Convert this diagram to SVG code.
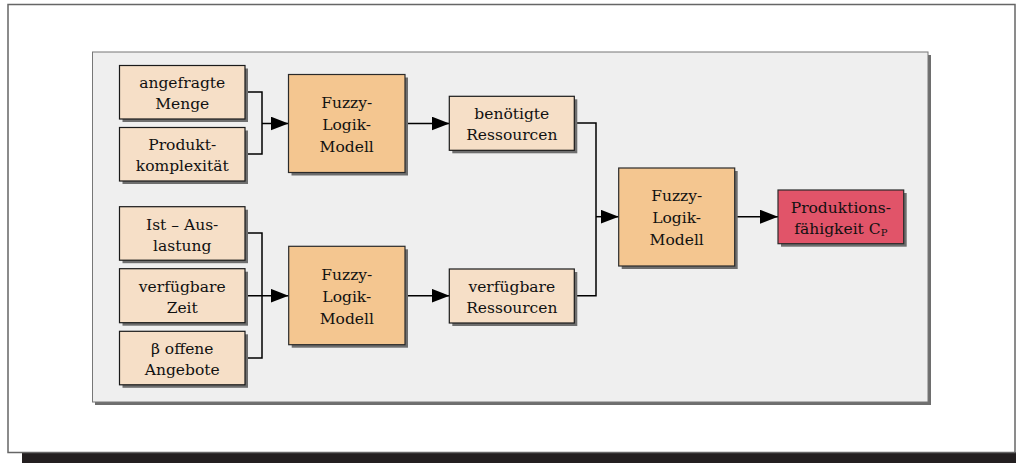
<svg xmlns="http://www.w3.org/2000/svg" width="1016" height="463" viewBox="0 0 1016 463">
  <defs>
    <marker id="arrow" markerUnits="userSpaceOnUse" markerWidth="18" markerHeight="14" refX="18" refY="7" orient="auto">
      <path d="M0,0 L18,7 L0,14 Z" fill="#000"/>
    </marker>
  </defs>
  <style>
    .shadow { fill: #6e6e6e; }
    .input { fill: #f6dfc7; stroke: #1a1a1a; stroke-width: 1.2; }
    .fuzzy { fill: #f4c690; stroke: #2a2a2a; stroke-width: 1.2; }
    .result { fill: #e15469; stroke: #2a2a2a; stroke-width: 1.2; }
    .label { font-family: "DejaVu Serif", "Liberation Serif", serif; font-size: 15.5px; fill: #111; text-anchor: middle; }
    .wire { fill: none; stroke: #000; stroke-width: 1.5; }
  </style>

  <!-- page frame with its drop shadow -->
  <rect x="22" y="452" width="994" height="11" fill="#231f20"/>
  <rect x="8" y="4.5" width="1007" height="448" fill="#fff" stroke="#666" stroke-width="1.5"/>

  <!-- grey panel -->
  <rect x="95" y="55" width="836" height="350" class="shadow"/>
  <rect x="92.5" y="52" width="835.5" height="350" fill="#efefef" stroke="#777" stroke-width="1"/>

  <!-- connectors -->
  <g id="connectors">
    <polyline class="wire" points="245,92 262,92 262,154 245,154"/>
    <line class="wire" x1="262" y1="123.5" x2="288.5" y2="123.5" marker-end="url(#arrow)"/>
    <line class="wire" x1="405" y1="123.5" x2="449.5" y2="123.5" marker-end="url(#arrow)"/>

    <polyline class="wire" points="245,233 262,233 262,358 245,358"/>
    <line class="wire" x1="245" y1="295.7" x2="288.5" y2="295.7" marker-end="url(#arrow)"/>
    <line class="wire" x1="405" y1="295.7" x2="449.5" y2="295.7" marker-end="url(#arrow)"/>

    <polyline class="wire" points="574.5,123 596,123 596,295.7 574.5,295.7"/>
    <line class="wire" x1="596" y1="216.7" x2="618.7" y2="216.7" marker-end="url(#arrow)"/>
    <line class="wire" x1="734.7" y1="216.7" x2="778" y2="216.7" marker-end="url(#arrow)"/>
  </g>

  <g id="angefragte-menge">
    <rect x="122.5" y="68.5" width="125.5" height="53.5" class="shadow"/>
    <rect x="119.5" y="65.5" width="125.5" height="53.5" class="input"/>
    <text class="label" x="182.2" y="88">angefragte</text>
    <text class="label" x="182.2" y="109">Menge</text>
  </g>

  <g id="produktkomplexitaet">
    <rect x="122.5" y="130.5" width="125.5" height="53.5" class="shadow"/>
    <rect x="119.5" y="127.5" width="125.5" height="53.5" class="input"/>
    <text class="label" x="182.2" y="150">Produkt-</text>
    <text class="label" x="182.2" y="171">komplexität</text>
  </g>

  <g id="fuzzy-bedarf">
    <rect x="291.5" y="77.5" width="116.5" height="98" class="shadow"/>
    <rect x="288.5" y="74.5" width="116.5" height="98" class="fuzzy"/>
    <text class="label" x="346.7" y="108">Fuzzy-</text>
    <text class="label" x="346.7" y="130">Logik-</text>
    <text class="label" x="346.7" y="152">Modell</text>
  </g>

  <g id="benoetigte-ressourcen">
    <rect x="452.3" y="99.3" width="125" height="54" class="shadow"/>
    <rect x="449.3" y="96.3" width="125" height="54" class="input"/>
    <text class="label" x="511.8" y="119">benötigte</text>
    <text class="label" x="511.8" y="140">Ressourcen</text>
  </g>

  <g id="ist-auslastung">
    <rect x="122.5" y="209.7" width="125.5" height="53.5" class="shadow"/>
    <rect x="119.5" y="206.7" width="125.5" height="53.5" class="input"/>
    <text class="label" x="182.2" y="229.5">Ist – Aus-</text>
    <text class="label" x="182.2" y="250.5">lastung</text>
  </g>

  <g id="verfuegbare-zeit">
    <rect x="122.5" y="271.7" width="125.5" height="54" class="shadow"/>
    <rect x="119.5" y="268.7" width="125.5" height="54" class="input"/>
    <text class="label" x="182.2" y="291.5">verfügbare</text>
    <text class="label" x="182.2" y="312.5">Zeit</text>
  </g>

  <g id="offene-angebote">
    <rect x="122.5" y="334.3" width="125.5" height="53.5" class="shadow"/>
    <rect x="119.5" y="331.3" width="125.5" height="53.5" class="input"/>
    <text class="label" x="182.2" y="354">β offene</text>
    <text class="label" x="182.2" y="375">Angebote</text>
  </g>

  <g id="fuzzy-kapazitaet">
    <rect x="291.7" y="249.3" width="116.3" height="98.4" class="shadow"/>
    <rect x="288.7" y="246.3" width="116.3" height="98.4" class="fuzzy"/>
    <text class="label" x="346.8" y="280">Fuzzy-</text>
    <text class="label" x="346.8" y="302">Logik-</text>
    <text class="label" x="346.8" y="324">Modell</text>
  </g>

  <g id="verfuegbare-ressourcen">
    <rect x="452.3" y="272" width="125" height="54" class="shadow"/>
    <rect x="449.3" y="269" width="125" height="54" class="input"/>
    <text class="label" x="511.8" y="291.5">verfügbare</text>
    <text class="label" x="511.8" y="312.5">Ressourcen</text>
  </g>

  <g id="fuzzy-gesamt">
    <rect x="621.7" y="171" width="116" height="98" class="shadow"/>
    <rect x="618.7" y="168" width="116" height="98" class="fuzzy"/>
    <text class="label" x="676.7" y="201">Fuzzy-</text>
    <text class="label" x="676.7" y="223">Logik-</text>
    <text class="label" x="676.7" y="245">Modell</text>
  </g>

  <g id="produktionsfaehigkeit">
    <rect x="781" y="193" width="125.7" height="53.7" class="shadow"/>
    <rect x="778" y="190" width="125.7" height="53.7" class="result"/>
    <text class="label" x="840.8" y="213">Produktions-</text>
    <text class="label" x="840.8" y="234">fähigkeit C<tspan font-size="10px" dy="2">P</tspan></text>
  </g>
</svg>
